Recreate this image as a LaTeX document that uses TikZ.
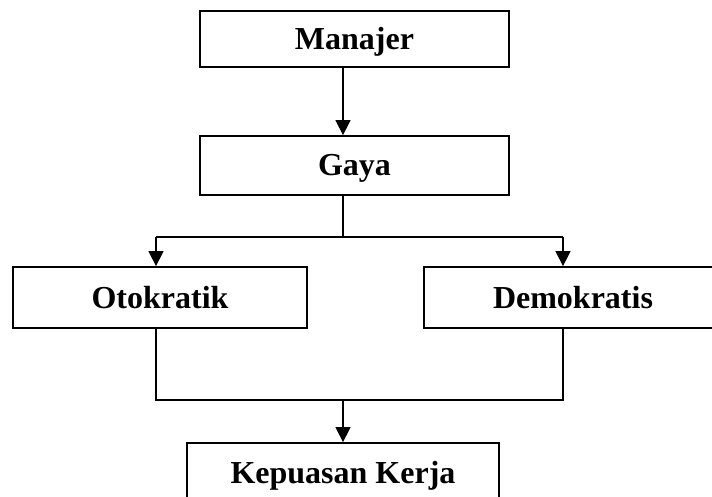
\documentclass[tikz,border=0pt]{standalone}
\usepackage{fontspec}
\setmainfont{Liberation Serif}
\usetikzlibrary{arrows.meta}
\tikzset{
  box/.style={draw=black, line width=1.8pt, fill=white, inner sep=0pt,
    text height=21pt, text depth=0pt,
    font=\fontsize{32}{36}\selectfont\bfseries},
  conn/.style={draw=black, line width=1.5pt},
  arr/.style={conn, -{Triangle[length=15pt,width=15pt]}}
}
\begin{document}
\begin{tikzpicture}[x=1pt,y=-1pt]
\useasboundingbox (0,0) rectangle (712,497);
\clip (0,0) rectangle (712,497);
\fill[white] (0,0) rectangle (712,497);
\node[box, minimum width=309pt, minimum height=56pt] (man) at (354.5,39) {Manajer};
\node[box, minimum width=309pt, minimum height=59pt] (gaya) at (354.5,165.5) {Gaya};
\node[box, minimum width=294pt, minimum height=61pt] (oto) at (160,297.5) {Otokratik};
\node[box, minimum width=298pt, minimum height=61pt] (demo) at (573,297.5) {Demokratis};
\node[box, minimum width=312pt, minimum height=60pt] (kep) at (343,473) {Kepuasan Kerja};
\coordinate (split) at (343,237);
\coordinate (lt) at (156,237);
\coordinate (rt) at (563,237);
\coordinate (lb) at (156,400);
\coordinate (rb) at (563,400);
\coordinate (join) at (343,400);
\draw[arr] (man.south -| kep.north) -- (gaya.north -| kep.north);
\draw[conn] (gaya.south -| split) -- (split);
\draw[conn] (lt) -- (rt);
\draw[arr] (lt) -- (lt |- oto.north);
\draw[arr] (rt) -- (rt |- demo.north);
\draw[conn] (lb |- oto.south) -- (lb) -- (rb) -- (rb |- demo.south);
\draw[arr] (join) -- (kep.north);
\end{tikzpicture}
\end{document}
